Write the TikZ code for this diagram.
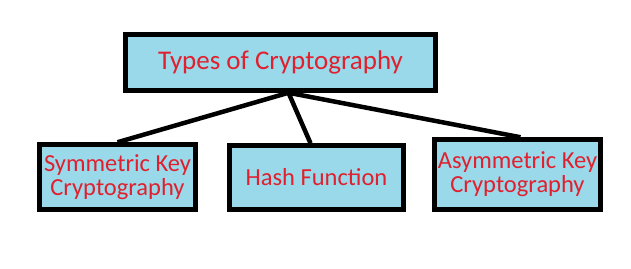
\documentclass[tikz,border=0pt]{standalone}
\usepackage{fontspec}
\setmainfont{Carlito}
\usepackage{tikz}
\usetikzlibrary{positioning,calc}
\definecolor{boxfill}{HTML}{99D9EA}
\definecolor{labelred}{HTML}{E0202E}

\begin{document}
\begin{tikzpicture}[x=1pt, y=1pt,
  kind/.style={rectangle, draw=black, line width=4.5pt, fill=boxfill,
               inner sep=1pt, align=center, text=labelred,
               font=\fontsize{24.5}{24}\selectfont},
  link/.style={line width=4.5pt, draw=black},
]
  \useasboundingbox (0,0) rectangle (631,-268);

  \node[kind, minimum width=310pt, minimum height=56pt,
        font=\fontsize{27}{28}\selectfont] (types) at (280.5,-62.5) {Types of Cryptography};
  \node[kind, minimum width=156pt, minimum height=65pt] (sym) at (117.5,-177) {Symmetric Key\\Cryptography};
  \node[kind, minimum width=174pt, minimum height=64pt] (hash) at (316.5,-177.5) {Hash Function};
  \node[kind, minimum width=166pt, minimum height=70pt] (asym) at (517.5,-174.5) {Asymmetric Key\\Cryptography};

  % lines meet a little right of the middle
  \coordinate (hub) at ($(types.south)+(8,0)$);
  \draw[link] (hub) -- (sym.north);
  \draw[link] (hub) -- ($(hash.north)+(-6,0)$);
  \draw[link] (hub) -- ($(asym.north)+(3,0)$);
\end{tikzpicture}
\end{document}
